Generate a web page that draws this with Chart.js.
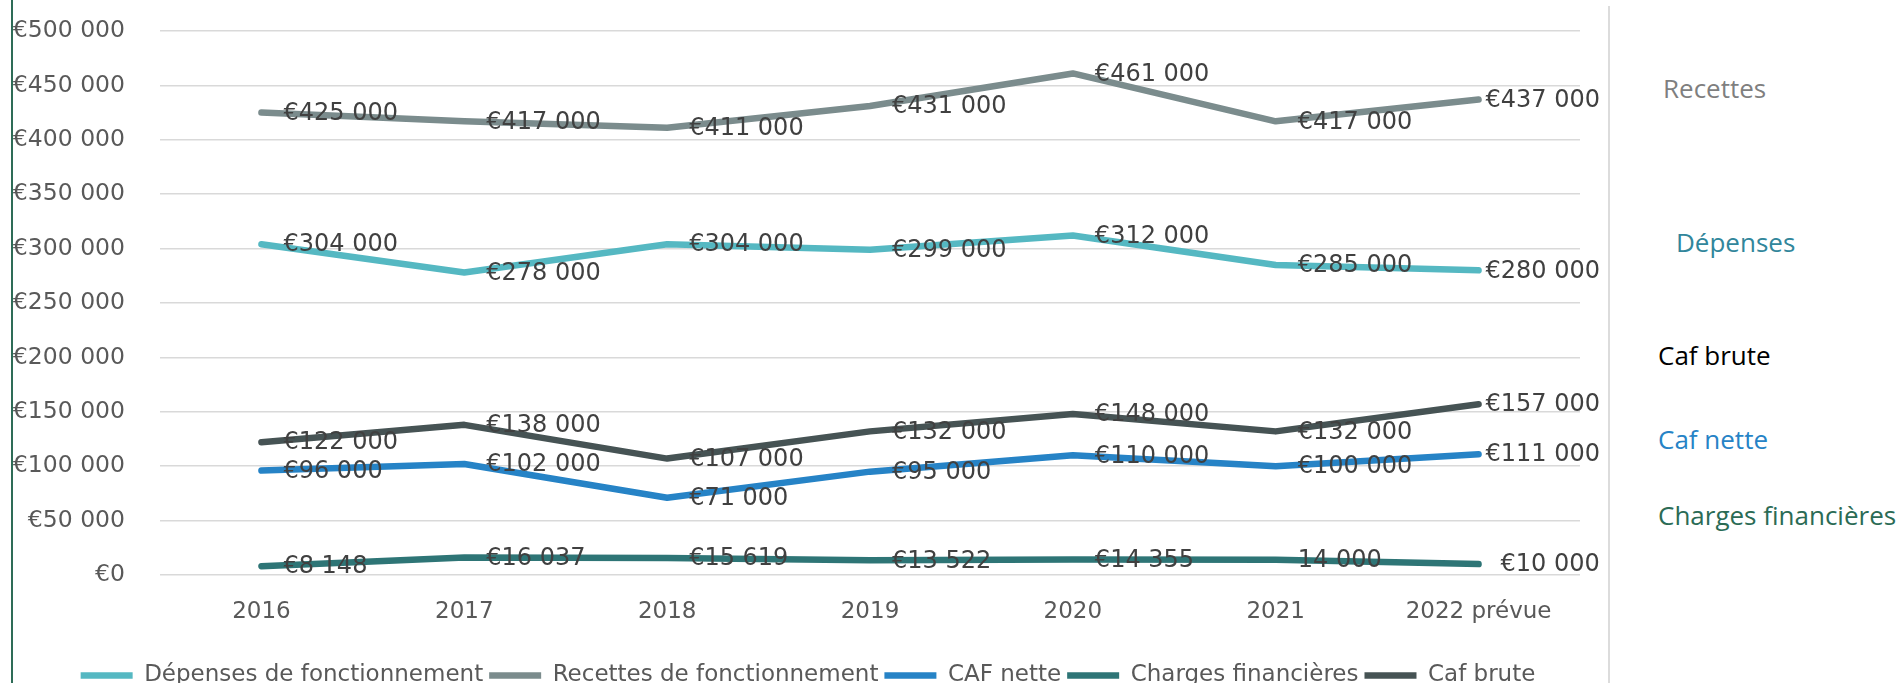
<!DOCTYPE html>
<html lang="fr">
<head>
<meta charset="utf-8">
<title>Recettes, dépenses et CAF</title>
<script src="https://cdn.jsdelivr.net/npm/chart.js@4.4.1/dist/chart.umd.min.js"></script>
<style>
  html, body { margin: 0; padding: 0; background: #fff; }
  body { width: 1904px; height: 683px; overflow: hidden; position: relative; }
  #wrap { position: absolute; left: 0; top: 0; width: 1609px; height: 697px; }
  .edge { position: absolute; left: 11px; top: 0; width: 2px; height: 683px; background: #2e6c57; }
  .sep { position: absolute; left: 1608px; top: 6px; width: 2px; height: 677px; background: #dcdcdc; }
  .side { position: absolute; font-family: "Open Sans", sans-serif; font-size: 26px; line-height: 30px; white-space: nowrap; }
</style>
</head>
<body>
<div id="wrap"><canvas id="financeChart" width="1609" height="697"></canvas></div>
<div class="edge"></div>
<div class="sep"></div>
<div class="side" style="left:1663px;top:73px;color:#7f7f7f;">Recettes</div>
<div class="side" style="left:1676px;top:227px;color:#31869b;">Dépenses</div>
<div class="side" style="left:1658px;top:340px;color:#000;">Caf brute</div>
<div class="side" style="left:1658px;top:424px;color:#2683c6;">Caf nette</div>
<div class="side" style="left:1658px;top:500px;color:#2b6b55;">Charges financières</div>

<script>
const years = ['2016', '2017', '2018', '2019', '2020', '2021', '2022 prévue'];

const depenses = [304000, 278000, 304000, 299000, 312000, 285000, 280000];
const recettes = [425000, 417000, 411000, 431000, 461000, 417000, 437000];
const cafNette = [96000, 102000, 71000, 95000, 110000, 100000, 111000];
const charges  = [8148, 16037, 15619, 13522, 14355, 14000, 10000];
const cafBrute = [122000, 138000, 107000, 132000, 148000, 132000, 157000];

// 2021 label has no euro sign in the source
const chargesLabels = ['€8 148', '€16 037', '€15 619', '€13 522', '€14 355', '14 000', '€10 000'];

/* ── Format: €425 000 ── */
function euro(v) {
  return '€' + String(v).replace(/\B(?=(\d{3})+(?!\d))/g, ' ');
}

function line(label, data, color) {
  return {
    label: label,
    data: data,
    borderColor: color,
    backgroundColor: color,
    borderWidth: 6.5,
    borderCapStyle: 'round',
    borderJoinStyle: 'round',
    tension: 0,
    pointRadius: 0,
    fill: false
  };
}

/* ── Data labels to the right of each point ── */
const valueLabels = {
  id: 'valueLabels',
  afterDatasetsDraw(chart) {
    const ctx = chart.ctx;
    ctx.save();
    ctx.font = '24px "DejaVu Sans"';
    ctx.fillStyle = '#404040';
    ctx.textAlign = 'left';
    ctx.textBaseline = 'middle';
    chart.data.datasets.forEach((ds, i) => {
      const meta = chart.getDatasetMeta(i);
      meta.data.forEach((pt, j) => {
        const txt = ds.labelTexts ? ds.labelTexts[j] : euro(ds.data[j]);
        const w = ctx.measureText(txt).width;
        const x = Math.min(pt.x + 22, chart.width - 9 - w);
        ctx.fillText(txt, x, pt.y + 1);
      });
    });
    ctx.restore();
  }
};

/* ── Legend is centred a bit right of the canvas middle ── */
const legendShift = {
  id: 'legendShift',
  afterLayout(chart) {
    chart.legend.left += 18;
    chart.legend.right += 18;
  }
};

Chart.defaults.font.family = '"DejaVu Sans", sans-serif';
Chart.defaults.font.size = 23;
Chart.defaults.color = '#595959';

const chargesSet = line('Charges financières', charges, '#2e7576');
chargesSet.labelTexts = chargesLabels;

new Chart(document.getElementById('financeChart').getContext('2d'), {
  type: 'line',
  data: {
    labels: years,
    datasets: [
      line('Dépenses de fonctionnement', depenses, '#55b8c2'),
      line('Recettes de fonctionnement', recettes, '#7b8c8d'),
      line('CAF nette', cafNette, '#2683c6'),
      chargesSet,
      line('Caf brute', cafBrute, '#465354')
    ]
  },
  options: {
    responsive: false,
    animation: false,
    layout: { padding: { top: 31, right: 29, left: 0, bottom: 0 } },
    plugins: {
      legend: {
        position: 'bottom',
        labels: {
          usePointStyle: true,
          pointStyle: 'line',
          pointStyleWidth: 52,
          padding: 6,
          color: '#595959',
          font: { size: 23 },
          generateLabels: chart =>
            Chart.defaults.plugins.legend.labels.generateLabels(chart)
              .map(item => Object.assign(item, { lineWidth: 6.5 }))
        }
      },
      tooltip: { enabled: false }
    },
    scales: {
      x: {
        offset: true,
        grid: { display: false },
        border: { display: false },
        ticks: { padding: 15, color: '#595959', maxRotation: 0 },
        afterFit: s => { s.height = 83; }
      },
      y: {
        min: 0,
        max: 500000,
        ticks: {
          stepSize: 50000,
          padding: 0,
          color: '#595959',
          font: { size: 23.5 },
          callback: v => euro(v)
        },
        grid: { color: '#d9d9d9', lineWidth: 1.5, drawTicks: true, tickLength: 35, tickColor: 'rgba(0,0,0,0)' },
        border: { display: false },
        afterFit: s => { s.width = 160; }
      }
    }
  },
  plugins: [valueLabels, legendShift]
});
</script>
</body>
</html>
